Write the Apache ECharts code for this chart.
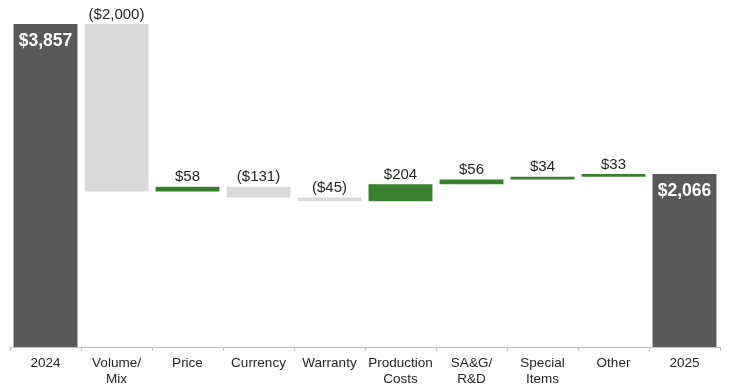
<!DOCTYPE html>
<html><head><meta charset="utf-8">
<script src="https://cdn.jsdelivr.net/npm/echarts@6/dist/echarts.min.js"></script>
<style>html,body{margin:0;padding:0;background:#fff}#c{width:732px;height:392px}</style>
</head><body><div id="c"></div>
<script>
const categories = ['2024','Volume/\nMix','Price','Currency','Warranty','Production\nCosts','SA&G/\nR&D','Special\nItems','Other','2025'];
const startTotal = 3857;
const changes = [-2000, 58, -131, -45, 204, 56, 34, 33];
const endTotal = 2066;

const fmt = v => {
  const s = '$' + Math.abs(v).toLocaleString('en-US');
  return v < 0 ? '(' + s + ')' : s;
};

const baseData = [], barData = [];
baseData.push(0);
barData.push({value: startTotal, kind: 'total', itemStyle: {color: '#595959'},
  label: {position: 'insideTop', distance: 8, color: '#fff', fontWeight: 'bold', fontSize: 17.5}});
let run = startTotal;
changes.forEach(d => {
  const next = run + d;
  baseData.push(Math.min(run, next));
  barData.push({value: Math.abs(d), delta: d, itemStyle: {color: d < 0 ? '#D9D9D9' : '#38802E'},
    label: {position: 'top', distance: 2, color: '#262626', fontSize: 15}});
  run = next;
});
baseData.push(0);
barData.push({value: endTotal, kind: 'total', itemStyle: {color: '#595959'},
  label: {position: 'insideTop', distance: 8, color: '#fff', fontWeight: 'bold', fontSize: 17.5}});

const chart = echarts.init(document.getElementById('c'));
chart.setOption({
  animation: false,
  textStyle: {fontFamily: 'Liberation Sans, Arial, sans-serif'},
  grid: {left: 10, right: 12, top: 24, bottom: 45},
  xAxis: {
    type: 'category', data: categories,
    axisLine: {lineStyle: {color: '#BFBFBF', width: 1}},
    axisTick: {show: true, length: 4, lineStyle: {color: '#BFBFBF'}},
    axisLabel: {color: '#262626', fontSize: 13.5, lineHeight: 16, margin: 8, interval: 0}
  },
  yAxis: {type: 'value', min: 0, max: 3857, show: false, splitLine: {show: false}},
  series: [
    {type: 'bar', stack: 'w', data: baseData, itemStyle: {color: 'transparent'}, barCategoryGap: '10%', silent: true},
    {type: 'bar', stack: 'w', data: barData, barCategoryGap: '10%',
      label: {show: true, fontFamily: 'Liberation Sans, Arial, sans-serif',
        formatter: p => p.data.kind === 'total' ? fmt(p.data.value) : fmt(p.data.delta)}}
  ]
});
</script></body></html>
